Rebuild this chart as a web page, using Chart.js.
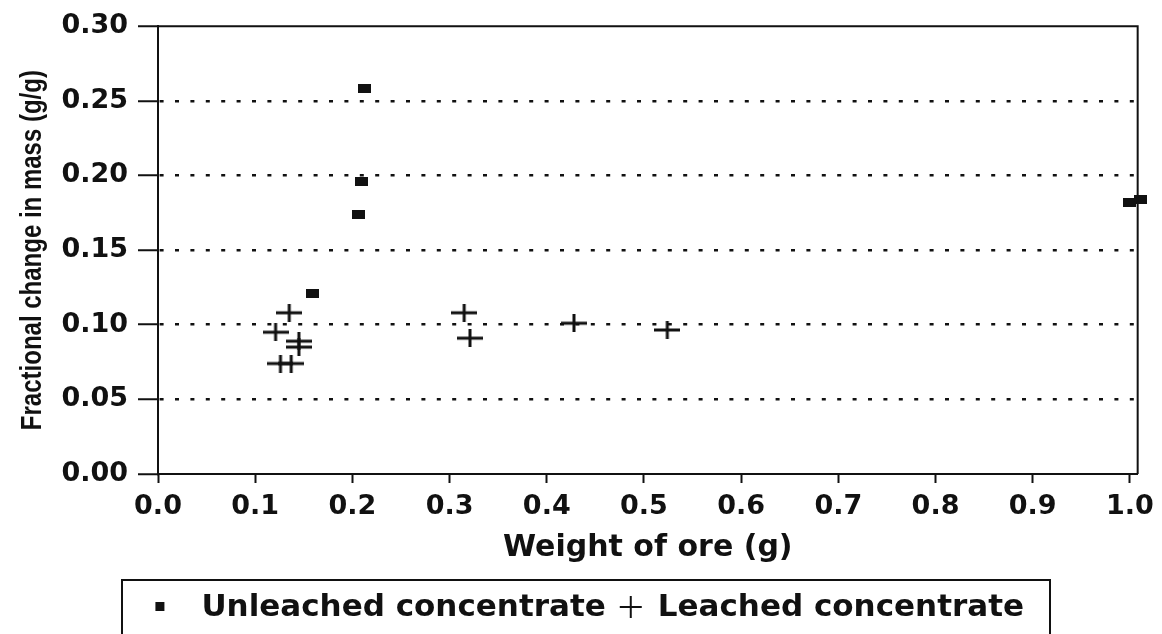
<!DOCTYPE html>
<html>
<head>
<meta charset="utf-8">
<script src="https://cdn.jsdelivr.net/npm/chart.js@4.4.0/dist/chart.umd.min.js"></script>
<style>
    html, body { margin: 0; padding: 0; background: #fff; }
    #wrap { width: 1162px; height: 634px; }
</style>
</head>
<body>
<div id="wrap"><canvas id="chart" width="1162" height="634"></canvas></div>
<script>
// Values
const unleachedX = [0.159, 0.206, 0.209, 0.212, 1.000, 1.011];
const unleachedY = [0.121, 0.174, 0.196, 0.258, 0.182, 0.184];

const leachedX = [0.121, 0.126, 0.135, 0.137, 0.145, 0.145, 0.315, 0.321, 0.428, 0.524];
const leachedY = [0.095, 0.074, 0.108, 0.074, 0.089, 0.085, 0.108, 0.091, 0.101, 0.0965];

const xTickValues = [0, 0.1, 0.2, 0.3, 0.4, 0.5, 0.6, 0.7, 0.8, 0.9, 1.0];
const xTickLabels = ['0.0', '0.1', '0.2', '0.3', '0.4', '0.5', '0.6', '0.7', '0.8', '0.9', '1.0'];
const yTickValues = [0, 0.05, 0.10, 0.15, 0.20, 0.25, 0.30];
const yTickLabels = ['0.00', '0.05', '0.10', '0.15', '0.20', '0.25', '0.30'];

const legendLabels = ['Unleached concentrate', 'Leached concentrate'];
const yTitle = 'Fractional change in mass (g/g)';

const ink = '#111';

function toPoints(xs, ys) {
    return xs.map((x, i) => ({ x: x, y: ys[i] }));
}

// Filled rectangle marker
function makeRectMarker(w, h) {
    const c = document.createElement('canvas');
    c.width = w;
    c.height = h;
    const g = c.getContext('2d');
    g.fillStyle = ink;
    g.fillRect(0, 0, w, h);
    return c;
}

// Plus marker, a bit wider than tall like the original
function makePlusMarker(w, h, lw) {
    const c = document.createElement('canvas');
    c.width = w;
    c.height = h;
    const g = c.getContext('2d');
    g.strokeStyle = ink;
    g.lineWidth = lw;
    g.beginPath();
    g.moveTo(0, h / 2);
    g.lineTo(w, h / 2);
    g.moveTo(w / 2, 0);
    g.lineTo(w / 2, h);
    g.stroke();
    return c;
}

const rectMarker = makeRectMarker(13, 9);
const plusMarker = makePlusMarker(26, 18, 3);

// Solid top and right edges of the plot frame
const framePlugin = {
    id: 'frame',
    afterDraw(chart) {
        const { ctx, chartArea: a } = chart;
        ctx.save();
        ctx.strokeStyle = ink;
        ctx.lineWidth = 2;
        ctx.beginPath();
        ctx.moveTo(a.left, a.top);
        ctx.lineTo(a.right, a.top);
        ctx.lineTo(a.right, a.bottom);
        ctx.stroke();
        ctx.restore();
    }
};

// Condensed y axis title (no narrow face installed, so squeeze it)
const yTitlePlugin = {
    id: 'yTitle',
    afterDraw(chart) {
        const { ctx, chartArea: a } = chart;
        ctx.save();
        ctx.translate(33, (a.top + a.bottom) / 2);
        ctx.rotate(-Math.PI / 2);
        ctx.scale(0.8, 1);
        ctx.font = 'bold 30px "Liberation Sans"';
        ctx.fillStyle = ink;
        ctx.textAlign = 'center';
        ctx.textBaseline = 'middle';
        ctx.fillText(yTitle, 0, 0);
        ctx.restore();
    }
};

// Boxed legend under the axis title
const legendPlugin = {
    id: 'boxLegend',
    afterDraw(chart) {
        const ctx = chart.ctx;
        ctx.save();
        ctx.font = 'bold 31px "DejaVu Sans"';
        ctx.fillStyle = ink;
        ctx.strokeStyle = ink;
        ctx.textBaseline = 'middle';
        const w1 = ctx.measureText(legendLabels[0]).width;
        const w2 = ctx.measureText(legendLabels[1]).width;
        const cy = 608;
        const end = 1024;

        ctx.lineWidth = 2;
        ctx.strokeRect(122, 580, 1050 - 122, 80);

        const x2 = end - w2;
        ctx.fillText(legendLabels[1], x2, cy);

        const px = x2 - 27;
        ctx.lineWidth = 2;
        ctx.beginPath();
        ctx.moveTo(px - 11, cy - 1);
        ctx.lineTo(px + 11, cy - 1);
        ctx.moveTo(px, cy - 12);
        ctx.lineTo(px, cy + 10);
        ctx.stroke();

        const x1 = px - 25 - w1;
        ctx.fillText(legendLabels[0], x1, cy);
        ctx.fillRect(x1 - 46, cy - 6, 9, 9);
        ctx.restore();
    }
};

const tickFont = { family: 'DejaVu Sans', size: 27, weight: 'bold' };

new Chart(document.getElementById('chart').getContext('2d'), {
    type: 'scatter',
    data: {
        datasets: [
            {
                label: legendLabels[0],
                data: toPoints(unleachedX, unleachedY),
                pointStyle: rectMarker,
                clip: false
            },
            {
                label: legendLabels[1],
                data: toPoints(leachedX, leachedY),
                pointStyle: plusMarker,
                clip: false
            }
        ]
    },
    options: {
        responsive: false,
        animation: false,
        devicePixelRatio: 1,
        layout: { padding: { left: 0, right: 24, top: 24, bottom: 60 } },
        plugins: {
            legend: { display: false },
            tooltip: { enabled: false }
        },
        scales: {
            x: {
                type: 'linear',
                min: 0,
                max: 1.008,
                afterBuildTicks: scale => { scale.ticks = xTickValues.map(v => ({ value: v })); },
                afterFit: scale => { scale.height = 100; },
                ticks: {
                    color: ink,
                    font: tickFont,
                    padding: 8,
                    maxRotation: 0,
                    autoSkip: false,
                    callback: (v, i) => xTickLabels[i]
                },
                grid: {
                    drawOnChartArea: false,
                    drawTicks: true,
                    tickLength: 9,
                    tickWidth: 2,
                    tickColor: ink
                },
                border: { display: true, color: ink, width: 2 },
                title: {
                    display: true,
                    text: 'Weight of ore (g)',
                    color: ink,
                    font: { family: 'DejaVu Sans', size: 30, weight: 'bold' },
                    padding: { top: 0, bottom: 8 }
                }
            },
            y: {
                type: 'linear',
                min: 0,
                max: 0.30,
                afterBuildTicks: scale => { scale.ticks = yTickValues.map(v => ({ value: v })); },
                afterFit: scale => { scale.width = 158; },
                ticks: {
                    color: ink,
                    font: tickFont,
                    padding: 10,
                    autoSkip: false,
                    callback: (v, i) => yTickLabels[i]
                },
                grid: {
                    color: ctx => (ctx.index === 0 || ctx.index === yTickValues.length - 1) ? 'rgba(0,0,0,0)' : ink,
                    lineWidth: 2.5,
                    drawTicks: true,
                    tickLength: 20,
                    tickWidth: 2,
                    tickColor: ink
                },
                border: { display: true, color: ink, width: 2, dash: [4, 11.4], dashOffset: 14.8 },
                title: { display: false }
            }
        }
    },
    plugins: [framePlugin, yTitlePlugin, legendPlugin]
});
</script>
</body>
</html>
